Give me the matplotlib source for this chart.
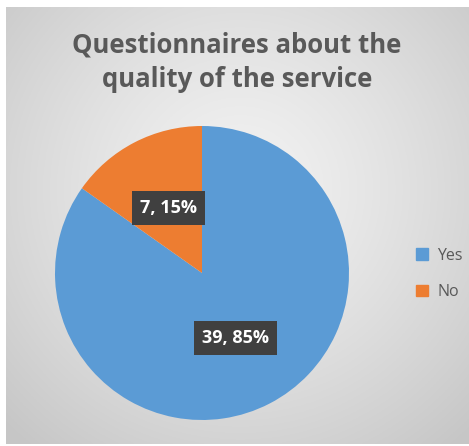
import numpy as np
import matplotlib.pyplot as plt
from matplotlib.patches import Rectangle

# data
labels = ["Yes", "No"]
values = [39, 7]
colors = ["#5B9BD5", "#ED7D31"]
title = "Questionnaires about the\nquality of the service"

W, H = 469, 446
fig = plt.figure(figsize=(W / 100, H / 100), dpi=100, facecolor="white")

# grey panel with a soft radial gradient (Excel style)
px0, py0, px1, py1 = 6, 7, 469, 444
bg = fig.add_axes([px0 / W, 1 - py1 / H, (px1 - px0) / W, (py1 - py0) / H])
gx, gy = np.meshgrid(np.linspace(px0, px1, 300), np.linspace(py0, py1, 300))
d = np.sqrt((gx - 240) ** 2 + (gy - 190) ** 2) / 330
shade = 0.95 - 0.17 * np.clip(d, 0, 1) ** 1.3
bg.imshow(np.dstack([shade] * 3), aspect="auto", extent=[0, 1, 0, 1], origin="upper")
bg.set_axis_off()

fig.text(237 / W, 1 - 62 / H, title, ha="center", va="center",
         fontsize=18.5, fontweight="bold", color="#595959",
         family="Open Sans", linespacing=1.35)

# pie
cx, cy, r = 202, 273, 147
ax = fig.add_axes([(cx - r) / W, 1 - (cy + r) / H, 2 * r / W, 2 * r / H])
total = sum(values)


def fmt(pct):
    v = int(round(pct * total / 100))
    return f"{v}, {pct:.0f}%"


wedges, _, autotexts = ax.pie(values, colors=colors, startangle=90,
                              counterclock=False, radius=1,
                              autopct=fmt, pctdistance=0.5,
                              wedgeprops=dict(linewidth=0))
for t in autotexts:
    t.set_color("white")
    t.set_fontweight("bold")
    t.set_fontsize(13)
    t.set_family("Open Sans")
    t.set_bbox(dict(boxstyle="square,pad=0.45", facecolor="#404040",
                    edgecolor="none"))
ax.set_xlim(-1, 1)
ax.set_ylim(-1, 1)
ax.set_axis_off()

handles = [Rectangle((0, 0), 1, 1, color=c) for c in colors]
fig.legend(handles, labels, loc="center left",
           bbox_to_anchor=(402 / W, 1 - 274 / H), frameon=False,
           handlelength=0.7, handleheight=0.7, handletextpad=0.6,
           labelspacing=1.3, labelcolor="#595959",
           prop={"family": "Open Sans", "size": 11.5})

fig.savefig("out.png", dpi=100, facecolor="white")
